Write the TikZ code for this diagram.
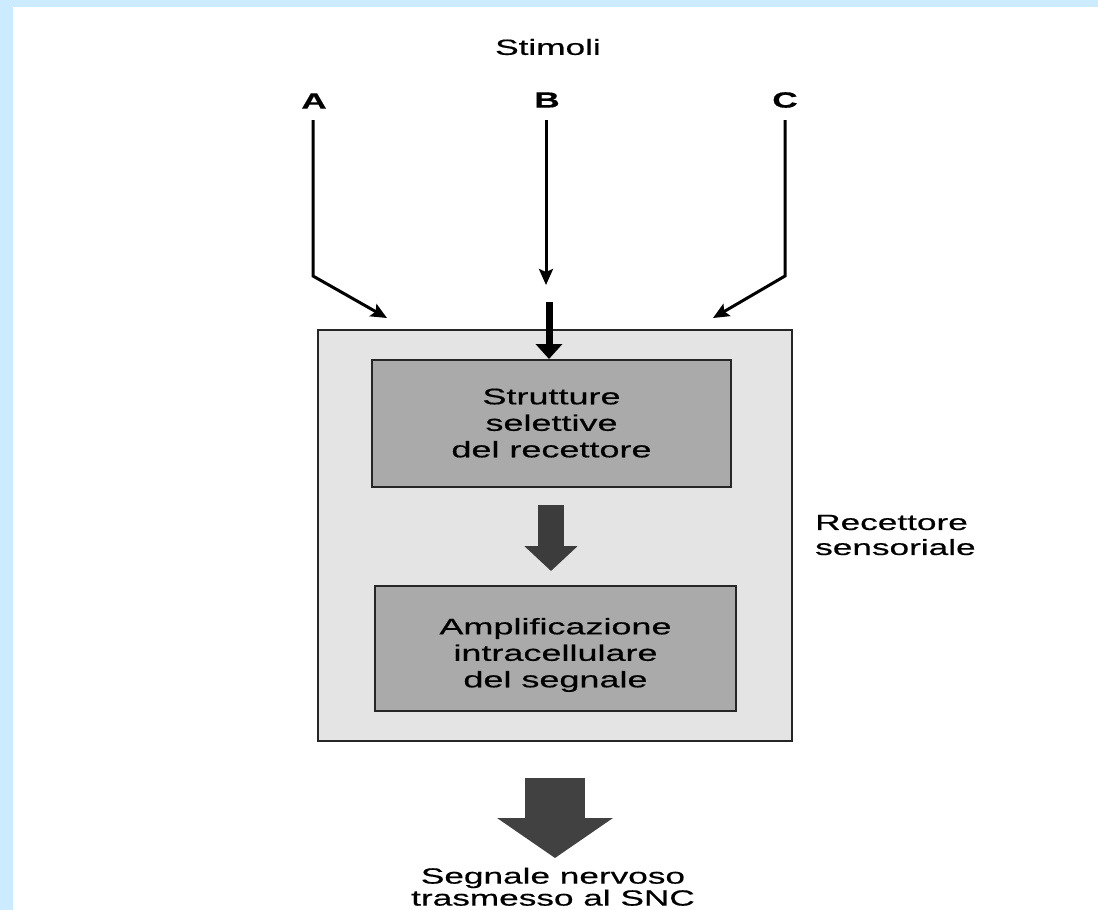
\documentclass[tikz,border=0pt]{standalone}
\usepackage{fontspec}
\setmainfont[FakeStretch=1.6,FakeBold=0.5]{Liberation Sans}
\usetikzlibrary{arrows.meta}
\definecolor{bluebg}{HTML}{CCEBFF}
\definecolor{outerfill}{HTML}{E4E4E4}
\definecolor{innerfill}{HTML}{AAAAAA}
\definecolor{midgray}{HTML}{3C3C3C}
\definecolor{biggray}{HTML}{414141}
\newcommand{\boxtext}[2]{\raisebox{0pt}[\dimexpr\height+#1\relax][\depth]{\begin{tabular}{@{}c@{}}#2\end{tabular}}}
\begin{document}
\begin{tikzpicture}[x=1pt,y=-1pt,
  lab/.style={font=\fontsize{22}{25}\selectfont, align=center, inner sep=0pt},
  letter/.style={font=\fontsize{22}{24}\selectfont\bfseries, inner sep=0pt},
  outerbox/.style={draw=black!85, line width=2pt, fill=outerfill, inner sep=0pt},
  innerbox/.style={draw=black!85, line width=2pt, fill=innerfill, align=center,
    font=\fontsize{22.5}{26.5}\selectfont, inner sep=0pt},
  thinarrow/.style={line width=3pt, line join=miter, -{Stealth[length=16pt,width=14pt,inset=3pt]}},
  thickarrow/.style={line width=7pt, -{Triangle[length=15pt,width=26pt]}},
  midarrow/.style={line width=26pt, draw=midgray, -{Triangle[length=25pt,width=52pt]}},
  bigarrow/.style={line width=60pt, draw=biggray, -{Triangle[length=40pt,width=114pt]}}
]
\fill[bluebg] (0,0) rectangle (1098,910);
\fill[white] (13,7) rectangle (1098,910);
\useasboundingbox (0,0) rectangle (1098,910);

% title and stimulus labels
\node[lab] (stim) at (548,47) {Stimoli};
\node[letter] (la) at (314,101) {A};
\node[letter] (lb) at (547,100) {B};
\node[letter] (lc) at (785,100) {C};

% boxes
\node[outerbox, minimum width=474pt, minimum height=411pt] (rec) at (555,535.5) {};
\node[innerbox, minimum width=359pt, minimum height=127pt] (sel) at (551.5,423.5)
  {\boxtext{4pt}{Strutture\\selettive\\del recettore}};
\node[innerbox, minimum width=361pt, minimum height=125pt] (amp) at (555.5,648.5)
  {\boxtext{14pt}{Amplificazione\\intracellulare\\del segnale}};

\node[lab, anchor=west, align=left] (rs) at (815,535) {Recettore\\sensoriale};
\node[lab, anchor=south, font=\fontsize{22}{22}\selectfont] (out) at (553,906) {Segnale nervoso\\trasmesso al SNC};

% stimulus arrows
\coordinate (a0) at (313,120);
\coordinate (a1) at (313,276);
\coordinate (a2) at (387,318);
\coordinate (b0) at (546,120);
\coordinate (b1) at (546,285);
\coordinate (c0) at (785,120);
\coordinate (c1) at (785,276);
\coordinate (c2) at (713,318);
\coordinate (t0) at (549,302);

\draw[thinarrow] (a0) -- (a1) -- (a2);
\draw[thinarrow] (b0) -- (b1);
\draw[thinarrow] (c0) -- (c1) -- (c2);
\draw[thickarrow] (t0) -- (t0 |- sel.north);

% arrow between the boxes
\coordinate (m0) at (551,505);
\coordinate (m1) at (551,571);
\draw[midarrow] (m0) -- (m1);

% output arrow
\coordinate (o0) at (555,778);
\coordinate (o1) at (555,858);
\draw[bigarrow] (o0) -- (o1);
\end{tikzpicture}
\end{document}
